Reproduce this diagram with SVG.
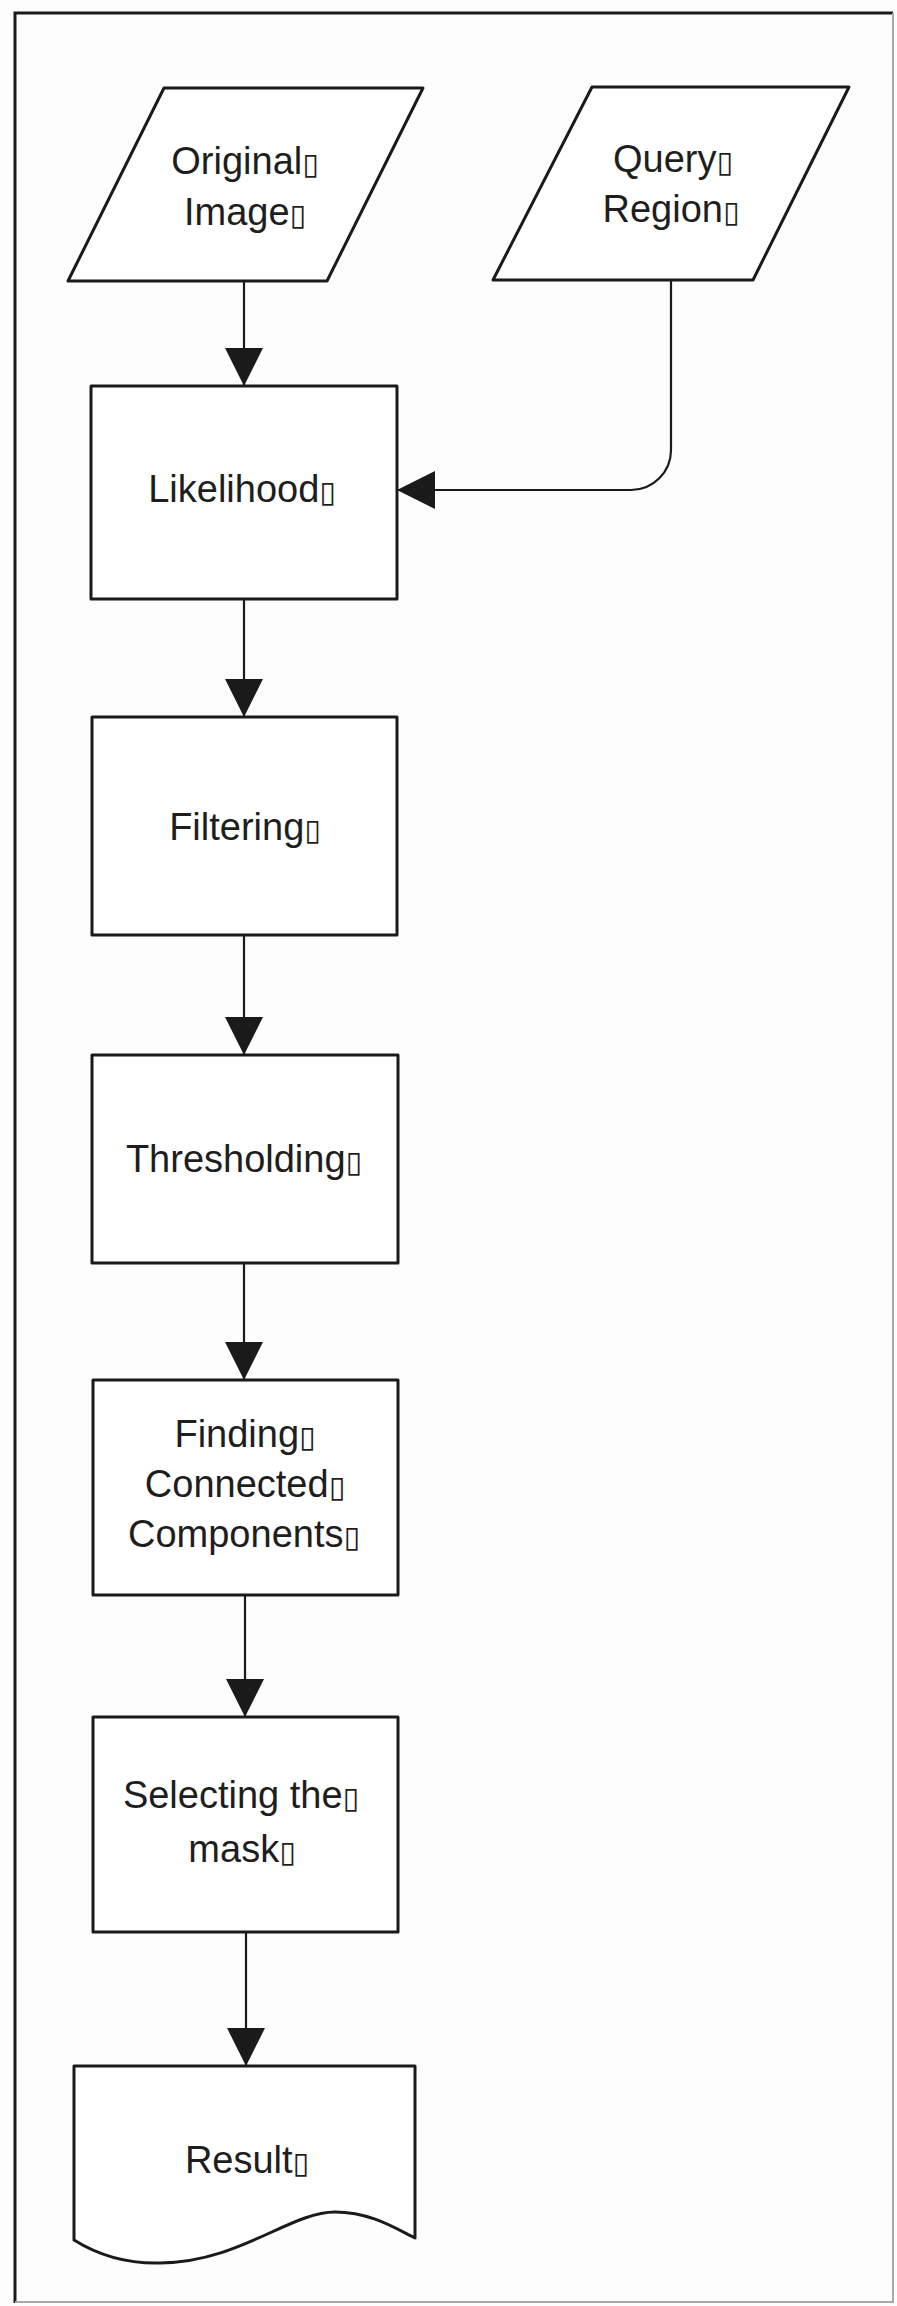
<svg xmlns="http://www.w3.org/2000/svg" width="897" height="2306" viewBox="0 0 897 2306">
<style>
  .shape { fill: #ffffff; stroke: #1a1a1a; stroke-width: 3; stroke-linejoin: round; }
  .lbl { font-family: "Liberation Sans", Arial, sans-serif; font-size: 38px; fill: #1e1e1e; text-anchor: middle; }
  .box { font-family: "DejaVu Sans", sans-serif; font-size: 30px; }
  .conn { fill: none; stroke: #1a1a1a; stroke-width: 2.2; }
</style>
<defs>
  <marker id="arrow" markerUnits="userSpaceOnUse" markerWidth="38" markerHeight="38" viewBox="0 0 36 36" refX="36" refY="18" orient="auto">
    <path d="M0,0 L36,18 L0,36 z" fill="#1a1a1a"/>
  </marker>
</defs>
<rect x="0" y="0" width="897" height="2306" fill="#fdfdfd"/>
<g id="frame">
  <path d="M15,2303 V13 H893" fill="none" stroke="#1a1a1a" stroke-width="3"/>
  <path d="M893,13 V2302 H15" fill="none" stroke="#a8a8a8" stroke-width="2"/>
</g>
<g id="connectors">
  <line class="conn" x1="244" y1="281" x2="244" y2="386" marker-end="url(#arrow)"/>
  <path class="conn" d="M671,280 V450 A40,40 0 0 1 631,490 H397" marker-end="url(#arrow)"/>
  <line class="conn" x1="244" y1="599" x2="244" y2="717" marker-end="url(#arrow)"/>
  <line class="conn" x1="244" y1="935" x2="244" y2="1055" marker-end="url(#arrow)"/>
  <line class="conn" x1="244" y1="1263" x2="244" y2="1380" marker-end="url(#arrow)"/>
  <line class="conn" x1="245" y1="1595" x2="245" y2="1717" marker-end="url(#arrow)"/>
  <line class="conn" x1="246" y1="1932" x2="246" y2="2066" marker-end="url(#arrow)"/>
</g>
<g id="original-image">
  <path class="shape" d="M164,88 H423 L327,281 H68 Z"/>
  <text class="lbl" x="245" y="174">Original<tspan class="box">▯</tspan></text>
  <text class="lbl" x="245" y="225">Image<tspan class="box">▯</tspan></text>
</g>
<g id="query-region">
  <path class="shape" d="M592,87 H849 L753,280 H493 Z"/>
  <text class="lbl" x="673" y="172">Query<tspan class="box">▯</tspan></text>
  <text class="lbl" x="671" y="222">Region<tspan class="box">▯</tspan></text>
</g>
<g id="likelihood">
  <rect class="shape" x="91" y="386" width="306" height="213"/>
  <text class="lbl" x="242" y="502">Likelihood<tspan class="box">▯</tspan></text>
</g>
<g id="filtering">
  <rect class="shape" x="92" y="717" width="305" height="218"/>
  <text class="lbl" x="245" y="840">Filtering<tspan class="box">▯</tspan></text>
</g>
<g id="thresholding">
  <rect class="shape" x="92" y="1055" width="306" height="208"/>
  <text class="lbl" x="244" y="1172">Thresholding<tspan class="box">▯</tspan></text>
</g>
<g id="finding-connected-components">
  <rect class="shape" x="93" y="1380" width="305" height="215"/>
  <text class="lbl" x="245" y="1447">Finding<tspan class="box">▯</tspan></text>
  <text class="lbl" x="245" y="1497">Connected<tspan class="box">▯</tspan></text>
  <text class="lbl" x="244" y="1547">Components<tspan class="box">▯</tspan></text>
</g>
<g id="selecting-the-mask">
  <rect class="shape" x="93" y="1717" width="305" height="215"/>
  <text class="lbl" x="241" y="1808">Selecting the<tspan class="box">▯</tspan></text>
  <text class="lbl" x="242" y="1862">mask<tspan class="box">▯</tspan></text>
</g>
<g id="result">
  <path class="shape" d="M74,2066 H415 V2238 C395,2228 370,2212 335,2212 C290,2212 240,2262 160,2263 C120,2264 90,2250 74,2240 Z"/>
  <text class="lbl" x="247" y="2173">Result<tspan class="box">▯</tspan></text>
</g>
</svg>
